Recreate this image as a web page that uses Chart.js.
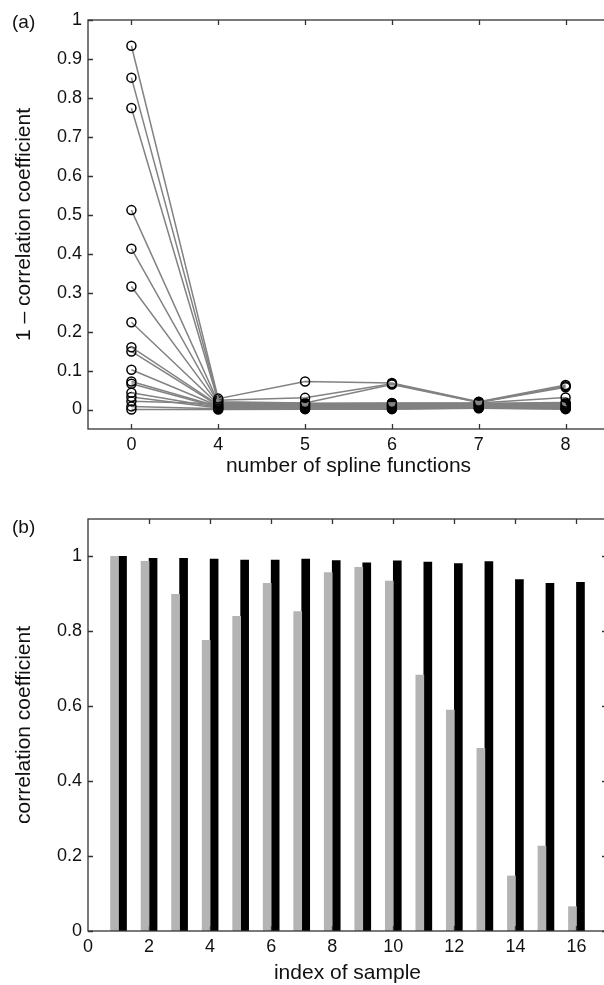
<!DOCTYPE html>
<html>
<head>
<meta charset="utf-8">
<script src="https://cdn.jsdelivr.net/npm/chart.js@4.4.1/dist/chart.umd.min.js"></script>
<style>
html, body { margin: 0; padding: 0; background: #fff; overflow: hidden; width: 604px; height: 985px; }
.panel { position: relative; width: 604px; overflow: hidden; }
.tag { position: absolute; left: 12px; font: 19px "Liberation Sans", Arial, sans-serif; color: #111; }
canvas { display: block; }
</style>
</head>
<body>
<div class="panel" style="height:490px">
  <canvas id="chartA" width="615" height="490"></canvas>
  <div class="tag" style="top:11px">(a)</div>
</div>
<div class="panel" style="height:495px">
  <canvas id="chartB" width="615" height="495"></canvas>
  <div class="tag" style="top:26px">(b)</div>
</div>
<script>
// -------------------------
// Data (a): 1 - correlation vs number of spline functions
// -------------------------
const splineLabels = ['0', '4', '5', '6', '7', '8'];
const atZero  = [0.934, 0.852, 0.774, 0.512, 0.413, 0.316, 0.224, 0.160, 0.149, 0.102, 0.072, 0.066, 0.043, 0.032, 0.021, 0.008, 0.000];
const atFour  = [0.028, 0.024, 0.020, 0.018, 0.016, 0.014, 0.013, 0.012, 0.010, 0.009, 0.008, 0.006, 0.005, 0.004, 0.015, 0.002, 0.000];
const atFive  = [0.072, 0.030, 0.017, 0.016, 0.015, 0.013, 0.012, 0.011, 0.010, 0.008, 0.007, 0.006, 0.005, 0.004, 0.014, 0.002, 0.001];
const atSix   = [0.068, 0.066, 0.064, 0.017, 0.016, 0.014, 0.013, 0.012, 0.010, 0.009, 0.008, 0.006, 0.005, 0.004, 0.015, 0.002, 0.001];
const atSeven = [0.020, 0.019, 0.018, 0.017, 0.016, 0.015, 0.014, 0.013, 0.012, 0.011, 0.010, 0.008, 0.007, 0.006, 0.014, 0.004, 0.003];
const atEight = [0.063, 0.060, 0.057, 0.031, 0.018, 0.015, 0.013, 0.012, 0.010, 0.009, 0.008, 0.006, 0.005, 0.004, 0.014, 0.002, 0.001];
const yTicksA = [0, 0.1, 0.2, 0.3, 0.4, 0.5, 0.6, 0.7, 0.8, 0.9, 1];

// -------------------------
// Data (b): correlation coefficient per sample
// -------------------------
const samples   = [1, 2, 3, 4, 5, 6, 7, 8, 9, 10, 11, 12, 13, 14, 15, 16];
const grayBars  = [1.000, 0.987, 0.899, 0.776, 0.840, 0.928, 0.853, 0.957, 0.971, 0.934, 0.683, 0.590, 0.488, 0.147, 0.227, 0.065];
const blackBars = [1.000, 0.995, 0.995, 0.993, 0.990, 0.990, 0.993, 0.989, 0.983, 0.988, 0.985, 0.981, 0.986, 0.938, 0.928, 0.931];
const xTicksB = [0, 2, 4, 6, 8, 10, 12, 14, 16];
const yTicksB = [0, 0.2, 0.4, 0.6, 0.8, 1];

Chart.defaults.font.family = '"Liberation Sans", Arial, sans-serif';
Chart.defaults.color = '#111';

// frame box + inward tick marks on all four sides
const frameTicks = {
    id: 'frameTicks',
    afterDraw(chart) {
        const { ctx, chartArea: a, scales: { x, y } } = chart;
        ctx.save();
        ctx.strokeStyle = '#333';
        ctx.lineWidth = 1.3;
        ctx.strokeRect(a.left, a.top, a.right - a.left, a.bottom - a.top);
        ctx.beginPath();
        x.ticks.forEach(t => {
            const px = Math.round(x.getPixelForValue(t.value)) + 0.5;
            if (px <= a.left + 1) return;
            ctx.moveTo(px, a.bottom); ctx.lineTo(px, a.bottom - 5);
            ctx.moveTo(px, a.top); ctx.lineTo(px, a.top + 5);
        });
        y.ticks.forEach(t => {
            const py = Math.round(y.getPixelForValue(t.value)) + 0.5;
            ctx.moveTo(a.left, py); ctx.lineTo(a.left + 5, py);
            ctx.moveTo(a.right, py); ctx.lineTo(a.right - 5, py);
        });
        ctx.stroke();
        ctx.restore();
    }
};

const tickFont = { size: 18 };
const titleFont = { size: 21 };
const noGrid = { display: false, drawTicks: false };

// -------------------------
// Chart (a)
// -------------------------
const lineSets = atZero.map((v, i) => ({
    data: [atZero[i], atFour[i], atFive[i], atSix[i], atSeven[i], atEight[i]].map((y, k) => ({ x: k, y })),
    borderColor: '#828282',
    borderWidth: 1.5,
    pointRadius: 4.5,
    pointBorderWidth: 1.5,
    pointBorderColor: '#000',
    pointBackgroundColor: 'rgba(0,0,0,0)',
    tension: 0
}));

new Chart(document.getElementById('chartA'), {
    type: 'line',
    data: { datasets: lineSets },
    plugins: [frameTicks],
    options: {
        responsive: false,
        animation: false,
        layout: { padding: { top: 20, right: 4, left: 0, bottom: 0 } },
        plugins: { legend: { display: false }, tooltip: { enabled: false } },
        scales: {
            x: {
                type: 'linear', min: -0.5, max: 5.5,
                grid: noGrid, border: { display: false },
                afterBuildTicks: s => { s.ticks = splineLabels.map((_, i) => ({ value: i })); },
                afterFit: s => { s.height = 61; },
                ticks: { font: tickFont, padding: 5, callback: v => splineLabels[v] },
                title: { display: true, text: 'number of spline functions', font: titleFont, padding: { top: 0, bottom: 11 } }
            },
            y: {
                min: -0.05, max: 1,
                grid: noGrid, border: { display: false },
                afterBuildTicks: s => { s.ticks = yTicksA.map(v => ({ value: v })); },
                afterFit: s => { s.width = 88; },
                ticks: { font: tickFont, padding: 6, callback: v => String(v) },
                title: { display: true, text: '1 – correlation coefficient', font: titleFont, padding: { top: 12, bottom: 0 } }
            }
        }
    }
});

// -------------------------
// Chart (b)
// -------------------------
new Chart(document.getElementById('chartB'), {
    type: 'bar',
    data: {
        datasets: [
            { data: samples.map((s, i) => ({ x: s, y: grayBars[i] })), backgroundColor: '#b4b4b4', barThickness: 8 },
            { data: samples.map((s, i) => ({ x: s, y: blackBars[i] })), backgroundColor: '#000', barThickness: 8 }
        ]
    },
    plugins: [frameTicks],
    options: {
        responsive: false,
        animation: false,
        layout: { padding: { top: 29, right: 8, left: 0, bottom: 0 } },
        plugins: { legend: { display: false }, tooltip: { enabled: false } },
        scales: {
            x: {
                type: 'linear', min: 0, max: 17, offset: false,
                grid: noGrid, border: { display: false },
                afterBuildTicks: s => { s.ticks = xTicksB.map(v => ({ value: v })); },
                afterFit: s => { s.height = 54; },
                ticks: { font: tickFont, padding: 5, callback: v => String(v) },
                title: { display: true, text: 'index of sample', font: titleFont, padding: { top: 0, bottom: -1 } }
            },
            y: {
                min: 0, max: 1.1,
                grid: noGrid, border: { display: false },
                afterBuildTicks: s => { s.ticks = yTicksB.map(v => ({ value: v })); },
                afterFit: s => { s.width = 88; },
                ticks: { font: tickFont, padding: 6, callback: v => String(v) },
                title: { display: true, text: 'correlation coefficient', font: titleFont, padding: { top: 12, bottom: 0 } }
            }
        }
    }
});
</script>
</body>
</html>
